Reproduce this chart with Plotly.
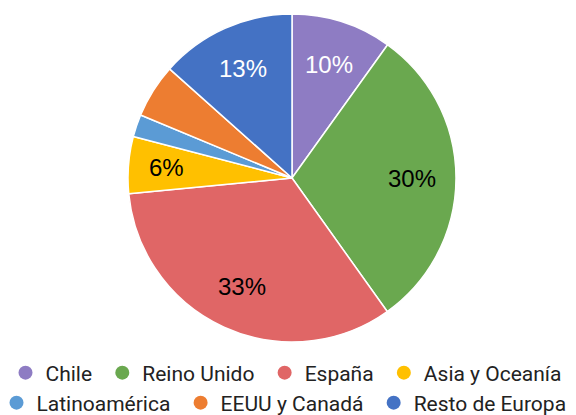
import math
import plotly.graph_objects as go

categories = ["Chile", "Reino Unido", "España", "Asia y Oceanía", "Latinoamérica", "EEUU y Canadá", "Resto de Europa"]
values = [9.9, 30.2, 33.3, 5.6, 2.2, 5.3, 13.4]
colors = ["#8E7CC3", "#6AA84F", "#E06666", "#FFC000", "#5B9BD5", "#ED7D31", "#4472C4"]
show_label = [True, True, True, True, False, False, True]
label_colors = ["white", "black", "black", "black", "black", "black", "white"]
legend_row = [1, 1, 1, 1, 2, 2, 2]

W, H = 576, 415
CX, CY, R = 292, 178, 164

fig = go.Figure()
fig.add_trace(go.Pie(
    labels=categories,
    values=values,
    sort=False,
    direction="clockwise",
    rotation=0,
    marker=dict(colors=colors, line=dict(color="white", width=1.5)),
    textinfo="none",
    showlegend=False,
    hoverinfo="label+percent",
    domain=dict(x=[(CX - R) / W, (CX + R) / W], y=[(H - CY - R) / H, (H - CY + R) / H]),
))

# percentage labels placed at the mid-angle of each slice
total = sum(values)
cum = 0.0
for v, s, c in zip(values, show_label, label_colors):
    mid = (cum + v / 2) / total * 2 * math.pi
    cum += v
    if not s:
        continue
    r = 0.73 * R if v > 8 else 0.77 * R
    px = CX + r * math.sin(mid)
    py = CY - r * math.cos(mid)
    fig.add_annotation(
        x=px / W, y=1 - py / H, xref="paper", yref="paper",
        text=f"{round(v / total * 100)}%", showarrow=False,
        font=dict(family="Liberation Sans, Arial, sans-serif", size=24, color=c),
        xanchor="center", yanchor="middle",
    )

rows = {1: [i for i, r in enumerate(legend_row) if r == 1], 2: [i for i, r in enumerate(legend_row) if r == 2]}
for i, (name, col, row) in enumerate(zip(categories, colors, legend_row)):
    last_in_row = i == rows[row][-1]
    fig.add_trace(go.Scatter(
        x=[None], y=[None], mode="markers",
        name=name if last_in_row else name + "\u00a0",
        marker=dict(symbol="circle", size=14, color=col),
        showlegend=True,
        legend="legend" if row == 1 else "legend2",
    ))

leg_common = dict(
    orientation="h",
    xanchor="center",
    yanchor="middle",
    font=dict(family="Roboto, sans-serif", size=21, color="#222222"),
    itemwidth=30,
    bgcolor="rgba(0,0,0,0)",
)

fig.update_layout(
    width=W, height=H,
    margin=dict(l=0, r=0, t=0, b=0, autoexpand=False),
    paper_bgcolor="white",
    plot_bgcolor="white",
    xaxis=dict(visible=False),
    yaxis=dict(visible=False),
    legend=dict(x=286 / W, y=1 - 373 / H, **leg_common),
    legend2=dict(x=284 / W, y=1 - 403 / H, **leg_common),
)

fig.write_html("out.html", config={"displayModeBar": False},
               post_script="document.body.style.margin='0';")
